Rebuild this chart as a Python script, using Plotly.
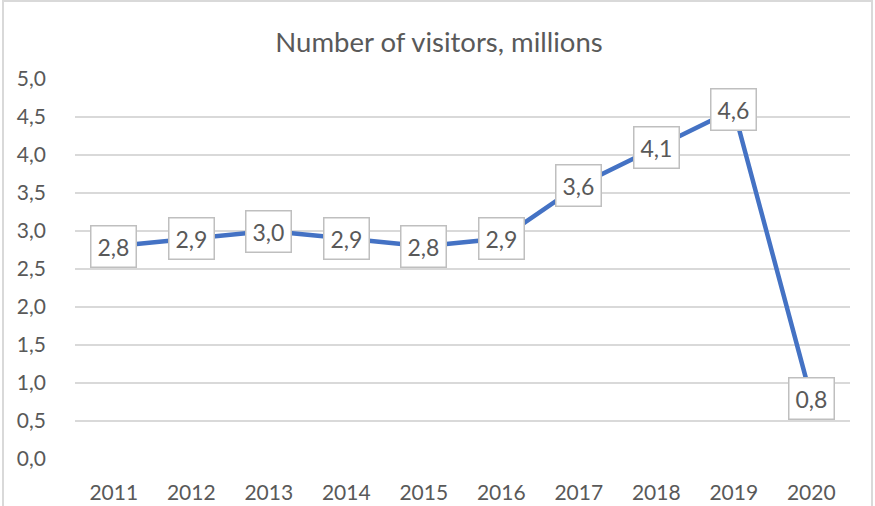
import plotly.graph_objects as go

# Visitor counts per year, in millions
years = ["2011", "2012", "2013", "2014", "2015", "2016", "2017", "2018", "2019", "2020"]
visitors = [2.8, 2.9, 3.0, 2.9, 2.8, 2.9, 3.6, 4.1, 4.6, 0.8]
y_ticks = [0, 0.5, 1, 1.5, 2, 2.5, 3, 3.5, 4, 4.5, 5]

FONT = "Lato"
TEXT_COLOR = "#595959"
GRID_COLOR = "#D9D9D9"
LINE_COLOR = "#4472C4"

pos = list(range(len(years)))

fig = go.Figure()
fig.add_trace(go.Scatter(
    x=pos, y=visitors, mode="lines",
    line=dict(color=LINE_COLOR, width=4.5),
    text=years, hovertemplate="%{text}: %{y}<extra></extra>", showlegend=False,
))

# Boxed value labels centred on each point
for p, v in zip(pos, visitors):
    fig.add_annotation(
        x=p, y=v, xref="x", yref="y",
        text=f"{v:.1f}".replace(".", ","),
        showarrow=False,
        font=dict(family=FONT, size=23, color=TEXT_COLOR),
        bgcolor="white", bordercolor="#BFBFBF", borderwidth=1.5, borderpad=6,
    )

# Light outer frame around the whole chart
fig.add_shape(
    type="rect", xref="paper", yref="paper",
    x0=(3 - 75) / 775, x1=(872 - 75) / 775,
    y0=(459 - 515) / 380, y1=(459 - 1) / 380,
    line=dict(color=GRID_COLOR, width=2), fillcolor="rgba(0,0,0,0)", layer="below",
)

fig.update_layout(
    width=875, height=506,
    margin=dict(l=75, r=25, t=79, b=47),
    paper_bgcolor="white", plot_bgcolor="white",
    separators=",.",
    title=dict(
        text="Number of visitors, millions",
        x=439 / 875, xanchor="center",
        y=1 - 42 / 506, yanchor="middle",
        font=dict(family=FONT, size=27.5, color=TEXT_COLOR),
    ),
    xaxis=dict(
        range=[-0.5, len(years) - 0.5], tickvals=pos, ticktext=years,
        showgrid=False, showline=False, zeroline=False, automargin=False,
        ticks="", ticklabelstandoff=19,
        tickfont=dict(family=FONT, size=21, color=TEXT_COLOR),
    ),
    yaxis=dict(
        range=[0, 5], tickvals=y_ticks, tickformat=".1f", automargin=False,
        showgrid=True, gridcolor=GRID_COLOR, gridwidth=1.5,
        zeroline=False, showline=False, ticks="", ticklabelstandoff=28,
        tickfont=dict(family=FONT, size=21, color=TEXT_COLOR),
    ),
)

fig.write_html("out.html")
